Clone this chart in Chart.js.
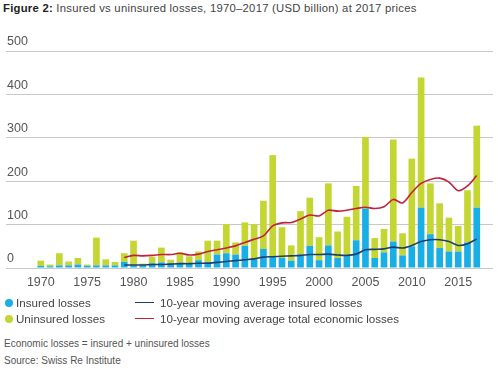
<!DOCTYPE html>
<html>
<head>
<meta charset="utf-8">
<script src="https://cdn.jsdelivr.net/npm/chart.js@4"></script>
<style>
  body { margin: 0; width: 500px; height: 372px; background: #fff; font-family: "Liberation Sans", Arial, sans-serif; color: #444; position: relative; overflow: hidden; }
  #title { position: absolute; left: 3px; top: 2px; font-size: 11.3px; letter-spacing: 0.25px; color: #444; white-space: nowrap; }
  #title b { color: #222; }
  #wrap { position: absolute; left: 0; top: 0; width: 500px; height: 300px; }
  #legend { position: absolute; left: 5px; top: 295px; display: grid; grid-template-columns: 130px auto; row-gap: 1px; font-size: 11.6px; color: #444; }
  .item { display: flex; align-items: center; height: 15px; white-space: nowrap; }
  .dot { width: 8px; height: 8px; border-radius: 50%; margin-right: 3px; }
  .line { width: 19px; height: 1.6px; margin-right: 6px; }
  .note { position: absolute; left: 4px; font-size: 10px; color: #555; white-space: nowrap; }
</style>
</head>
<body>
<div id="title"><b>Figure 2:</b> Insured vs uninsured losses, 1970–2017 (USD billion) at 2017 prices</div>
<div id="wrap"><canvas id="lossChart"></canvas></div>
<div id="legend"></div>
<div class="note" style="top:338px">Economic losses = insured + uninsured losses</div>
<div class="note" style="top:355px">Source: Swiss Re Institute</div>
<script>
// Anos e perdas (USD bn, preços de 2017)
const years = [1970, 1971, 1972, 1973, 1974, 1975, 1976, 1977, 1978, 1979,
  1980, 1981, 1982, 1983, 1984, 1985, 1986, 1987, 1988, 1989,
  1990, 1991, 1992, 1993, 1994, 1995, 1996, 1997, 1998, 1999,
  2000, 2001, 2002, 2003, 2004, 2005, 2006, 2007, 2008, 2009,
  2010, 2011, 2012, 2013, 2014, 2015, 2016, 2017];
const insured = [5, 4, 6, 6, 8, 5, 6, 6, 6, 14,
  6, 6, 11, 13, 11, 12, 10, 18, 14, 31,
  34, 31, 51, 21, 44, 27, 23, 17, 31, 51,
  18, 52, 23, 28, 64, 137, 23, 36, 61, 29,
  50, 139, 78, 46, 38, 38, 59, 139];
const uninsured = [12, 4, 28, 9, 15, 3, 64, 14, 8, 20,
  57, 4, 15, 34, 8, 24, 17, 20, 49, 32,
  67, 28, 54, 80, 111, 233, 71, 35, 100, 111,
  53, 143, 61, 90, 125, 165, 46, 54, 235, 51,
  202, 300, 117, 103, 78, 59, 120, 189];

// Médias móveis de 10 anos (a partir de 1979)
const maYears = years.slice(9);
const maInsured = [7, 7, 7, 8, 8, 9, 10, 10, 11, 11,
  13, 15, 17, 19, 21, 25, 26, 27, 28, 29,
  31, 31, 32, 30, 29, 32, 42, 43, 44, 48,
  46, 52, 61, 65, 65, 61, 52, 56, 67];
const maTotal = [24, 29, 28, 29, 31, 31, 34, 30, 32, 38,
  42, 46, 51, 59, 66, 74, 97, 104, 105, 113,
  122, 120, 133, 131, 133, 137, 140, 137, 141, 158,
  150, 174, 195, 204, 207, 198, 178, 189, 213];

const xTicks = [1970, 1975, 1980, 1985, 1990, 1995, 2000, 2005, 2010, 2015];
const yTicks = [0, 100, 200, 300, 400, 500];

const pts = (xs, ys) => xs.map((x, i) => ({ x: x, y: ys[i] }));

const data = {
  datasets: [
    { type: 'bar', label: 'Insured losses', data: pts(years, insured), backgroundColor: '#19afe4', stack: 'losses', order: 2, legend: 'dot' },
    { type: 'bar', label: 'Uninsured losses', data: pts(years, uninsured), backgroundColor: '#c4d631', stack: 'losses', order: 2, legend: 'dot' },
    { type: 'line', label: '10-year moving average insured losses', data: pts(maYears, maInsured), borderColor: '#1f3d6c', borderWidth: 1.6, pointRadius: 0, tension: 0.3, stack: 'ma1', order: 1, legend: 'line' },
    { type: 'line', label: '10-year moving average total economic losses', data: pts(maYears, maTotal), borderColor: '#c4203c', borderWidth: 1.6, pointRadius: 0, tension: 0.3, stack: 'ma2', order: 1, legend: 'line' }
  ]
};

const options = {
  responsive: true,
  maintainAspectRatio: false,
  animation: false,
  layout: { padding: { top: 51, left: 4, right: 7, bottom: 3 } },
  plugins: { legend: { display: false }, tooltip: { enabled: false } },
  datasets: { bar: { barPercentage: 0.72, categoryPercentage: 1 } },
  scales: {
    x: {
      type: 'linear',
      stacked: true,
      offset: false,
      min: 1966.25,
      max: 2018.75,
      afterBuildTicks: (axis) => { axis.ticks = xTicks.map(v => ({ value: v })); },
      grid: { display: false, drawTicks: false },
      border: { display: false },
      ticks: { callback: v => String(v), color: '#555', font: { family: 'Liberation Sans', size: 12.5 }, padding: 7, maxRotation: 0 }
    },
    y: {
      stacked: true,
      min: 0,
      max: 500,
      afterBuildTicks: (axis) => { axis.ticks = yTicks.map(v => ({ value: v })); },
      grid: { color: '#c9c9c9', lineWidth: 1, drawTicks: false },
      border: { display: false },
      ticks: { mirror: true, padding: 1, labelOffset: -9, color: '#555', font: { family: 'Liberation Sans', size: 12.5 } }
    }
  }
};

const ctx = document.getElementById('lossChart').getContext('2d');
const chart = new Chart(ctx, { data: data, options: options });

// Legenda em duas colunas
const order = [0, 2, 1, 3];
const legend = document.getElementById('legend');
order.forEach(i => {
  const ds = data.datasets[i];
  const item = document.createElement('div');
  item.className = 'item';
  const mark = document.createElement('span');
  mark.className = ds.legend;
  mark.style.background = ds.legend === 'dot' ? ds.backgroundColor : ds.borderColor;
  const txt = document.createElement('span');
  txt.textContent = ds.label;
  item.appendChild(mark);
  item.appendChild(txt);
  legend.appendChild(item);
});
</script>
</body>
</html>
